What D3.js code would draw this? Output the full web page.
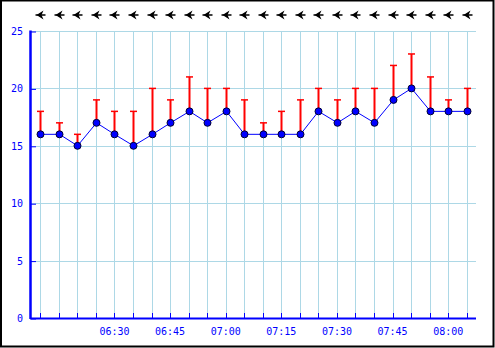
<!DOCTYPE html>
<html>
<head>
<meta charset="utf-8">
<script src="https://cdn.jsdelivr.net/npm/d3@7"></script>
<style>
  body { margin: 0; background: #fff; }
  svg { display: block; }
</style>
</head>
<body>
<svg id="chart" width="495" height="348"></svg>
<script>
// data, one point every 5 minutes
const times = ["06:10","06:15","06:20","06:25","06:30","06:35","06:40","06:45",
  "06:50","06:55","07:00","07:05","07:10","07:15","07:20","07:25",
  "07:30","07:35","07:40","07:45","07:50","07:55","08:00","08:05"];
const values = [16,16,15,17,16,15,16,17,18,17,18,16,16,16,16,18,17,18,17,19,20,18,18,18];
const highs  = [18,17,16,19,18,18,20,19,21,20,20,19,17,18,19,20,19,20,20,22,23,21,19,20];
const yTicks = [0,5,10,15,20,25];
const xTickLabels = ["06:30","06:45","07:00","07:15","07:30","07:45","08:00"];

const parseT = d3.timeParse("%H:%M");
const data = times.map((t, i) => ({ t: parseT(t), v: values[i], hi: highs[i] }));

const svg = d3.select("#chart");
const plotLeft = 31, plotRight = 476, plotTop = 31, plotBottom = 318;

// half a step (2.5 min) of padding either side
const pad = 2.5 * 60 * 1000;
const x = d3.scaleTime()
  .domain([new Date(+parseT("06:10") - pad), new Date(+parseT("08:05") + pad)])
  .range([plotLeft, plotRight]);
const y = d3.scaleLinear().domain([0, 25]).range([plotBottom, plotTop]);
const px = d => Math.round(x(d.t)) + 0.5;

// frame
svg.append("rect")
  .attr("x", 1).attr("y", 0.5).attr("width", 492.5).attr("height", 346)
  .attr("fill", "none").attr("stroke", "#000").attr("stroke-width", 2);

// grid
const grid = svg.append("g").attr("stroke", "#add8e6").attr("stroke-width", 1);
grid.selectAll(".gx").data(data).join("line")
  .attr("x1", px).attr("x2", px)
  .attr("y1", plotTop).attr("y2", plotBottom);
grid.selectAll(".gy").data(yTicks.filter(v => v > 0)).join("line")
  .attr("x1", plotLeft).attr("x2", plotRight)
  .attr("y1", d => Math.round(y(d)) + 0.5).attr("y2", d => Math.round(y(d)) + 0.5);

// axes
const yAxis = svg.append("g").attr("transform", `translate(${plotLeft},0.5)`)
  .call(d3.axisRight(y).tickValues(yTicks).tickSize(5).tickFormat(""));
yAxis.select(".domain").remove();
yAxis.selectAll("line").attr("stroke", "#0000ff");
svg.append("line").attr("x1", 30.5).attr("x2", 30.5).attr("y1", plotTop - 0.5).attr("y2", plotBottom + 1)
  .attr("stroke", "#0000ff").attr("stroke-width", 2.5);

svg.append("g").selectAll("line").data(data).join("line")
  .attr("x1", px).attr("x2", px)
  .attr("y1", plotBottom).attr("y2", plotBottom - 5)
  .attr("stroke", "#0000ff");
svg.append("line").attr("x1", plotLeft - 1).attr("x2", plotRight).attr("y1", plotBottom + 0.5).attr("y2", plotBottom + 0.5)
  .attr("stroke", "#0000ff").attr("stroke-width", 2);

const labelFont = "'DejaVu Sans Mono', monospace";
svg.append("g").selectAll("text").data(yTicks).join("text")
  .attr("x", 23).attr("y", d => y(d) + 4)
  .attr("text-anchor", "end")
  .attr("font-family", labelFont).attr("font-size", 10).attr("fill", "#0000ff")
  .text(d => d);
svg.append("g").selectAll("text").data(xTickLabels).join("text")
  .attr("x", d => x(parseT(d))).attr("y", 335)
  .attr("text-anchor", "middle")
  .attr("font-family", labelFont).attr("font-size", 10).attr("fill", "#0000ff")
  .text(d => d);

// error bars (upper only)
const err = svg.append("g").attr("stroke", "#ff0000");
err.selectAll(".bar").data(data).join("line")
  .attr("x1", px).attr("x2", px)
  .attr("y1", d => y(d.v)).attr("y2", d => y(d.hi))
  .attr("stroke-width", 2);
err.selectAll(".cap").data(data).join("line")
  .attr("x1", d => px(d) - 3.5).attr("x2", d => px(d) + 3.5)
  .attr("y1", d => y(d.hi)).attr("y2", d => y(d.hi))
  .attr("stroke-width", 1.5);

// line and points
svg.append("path").datum(data)
  .attr("fill", "none").attr("stroke", "#0000ff").attr("stroke-width", 1)
  .attr("d", d3.line().x(px).y(d => y(d.v)));
svg.append("g").selectAll("circle").data(data).join("circle")
  .attr("cx", px).attr("cy", d => y(d.v)).attr("r", 3.5)
  .attr("fill", "#0000ff").attr("stroke", "#000033").attr("stroke-width", 1);

// direction arrows along the top
const arrows = svg.append("g").selectAll("g").data(data).join("g")
  .attr("transform", d => `translate(${px(d)},15)`);
arrows.append("line").attr("x1", -5).attr("x2", 5).attr("y1", 0).attr("y2", 0)
  .attr("stroke", "#000").attr("stroke-width", 1.5);
arrows.append("path").attr("d", "M-4,0 L3,-4.5 L1,0 L3,4.5 Z").attr("fill", "#000");
</script>
</body>
</html>
